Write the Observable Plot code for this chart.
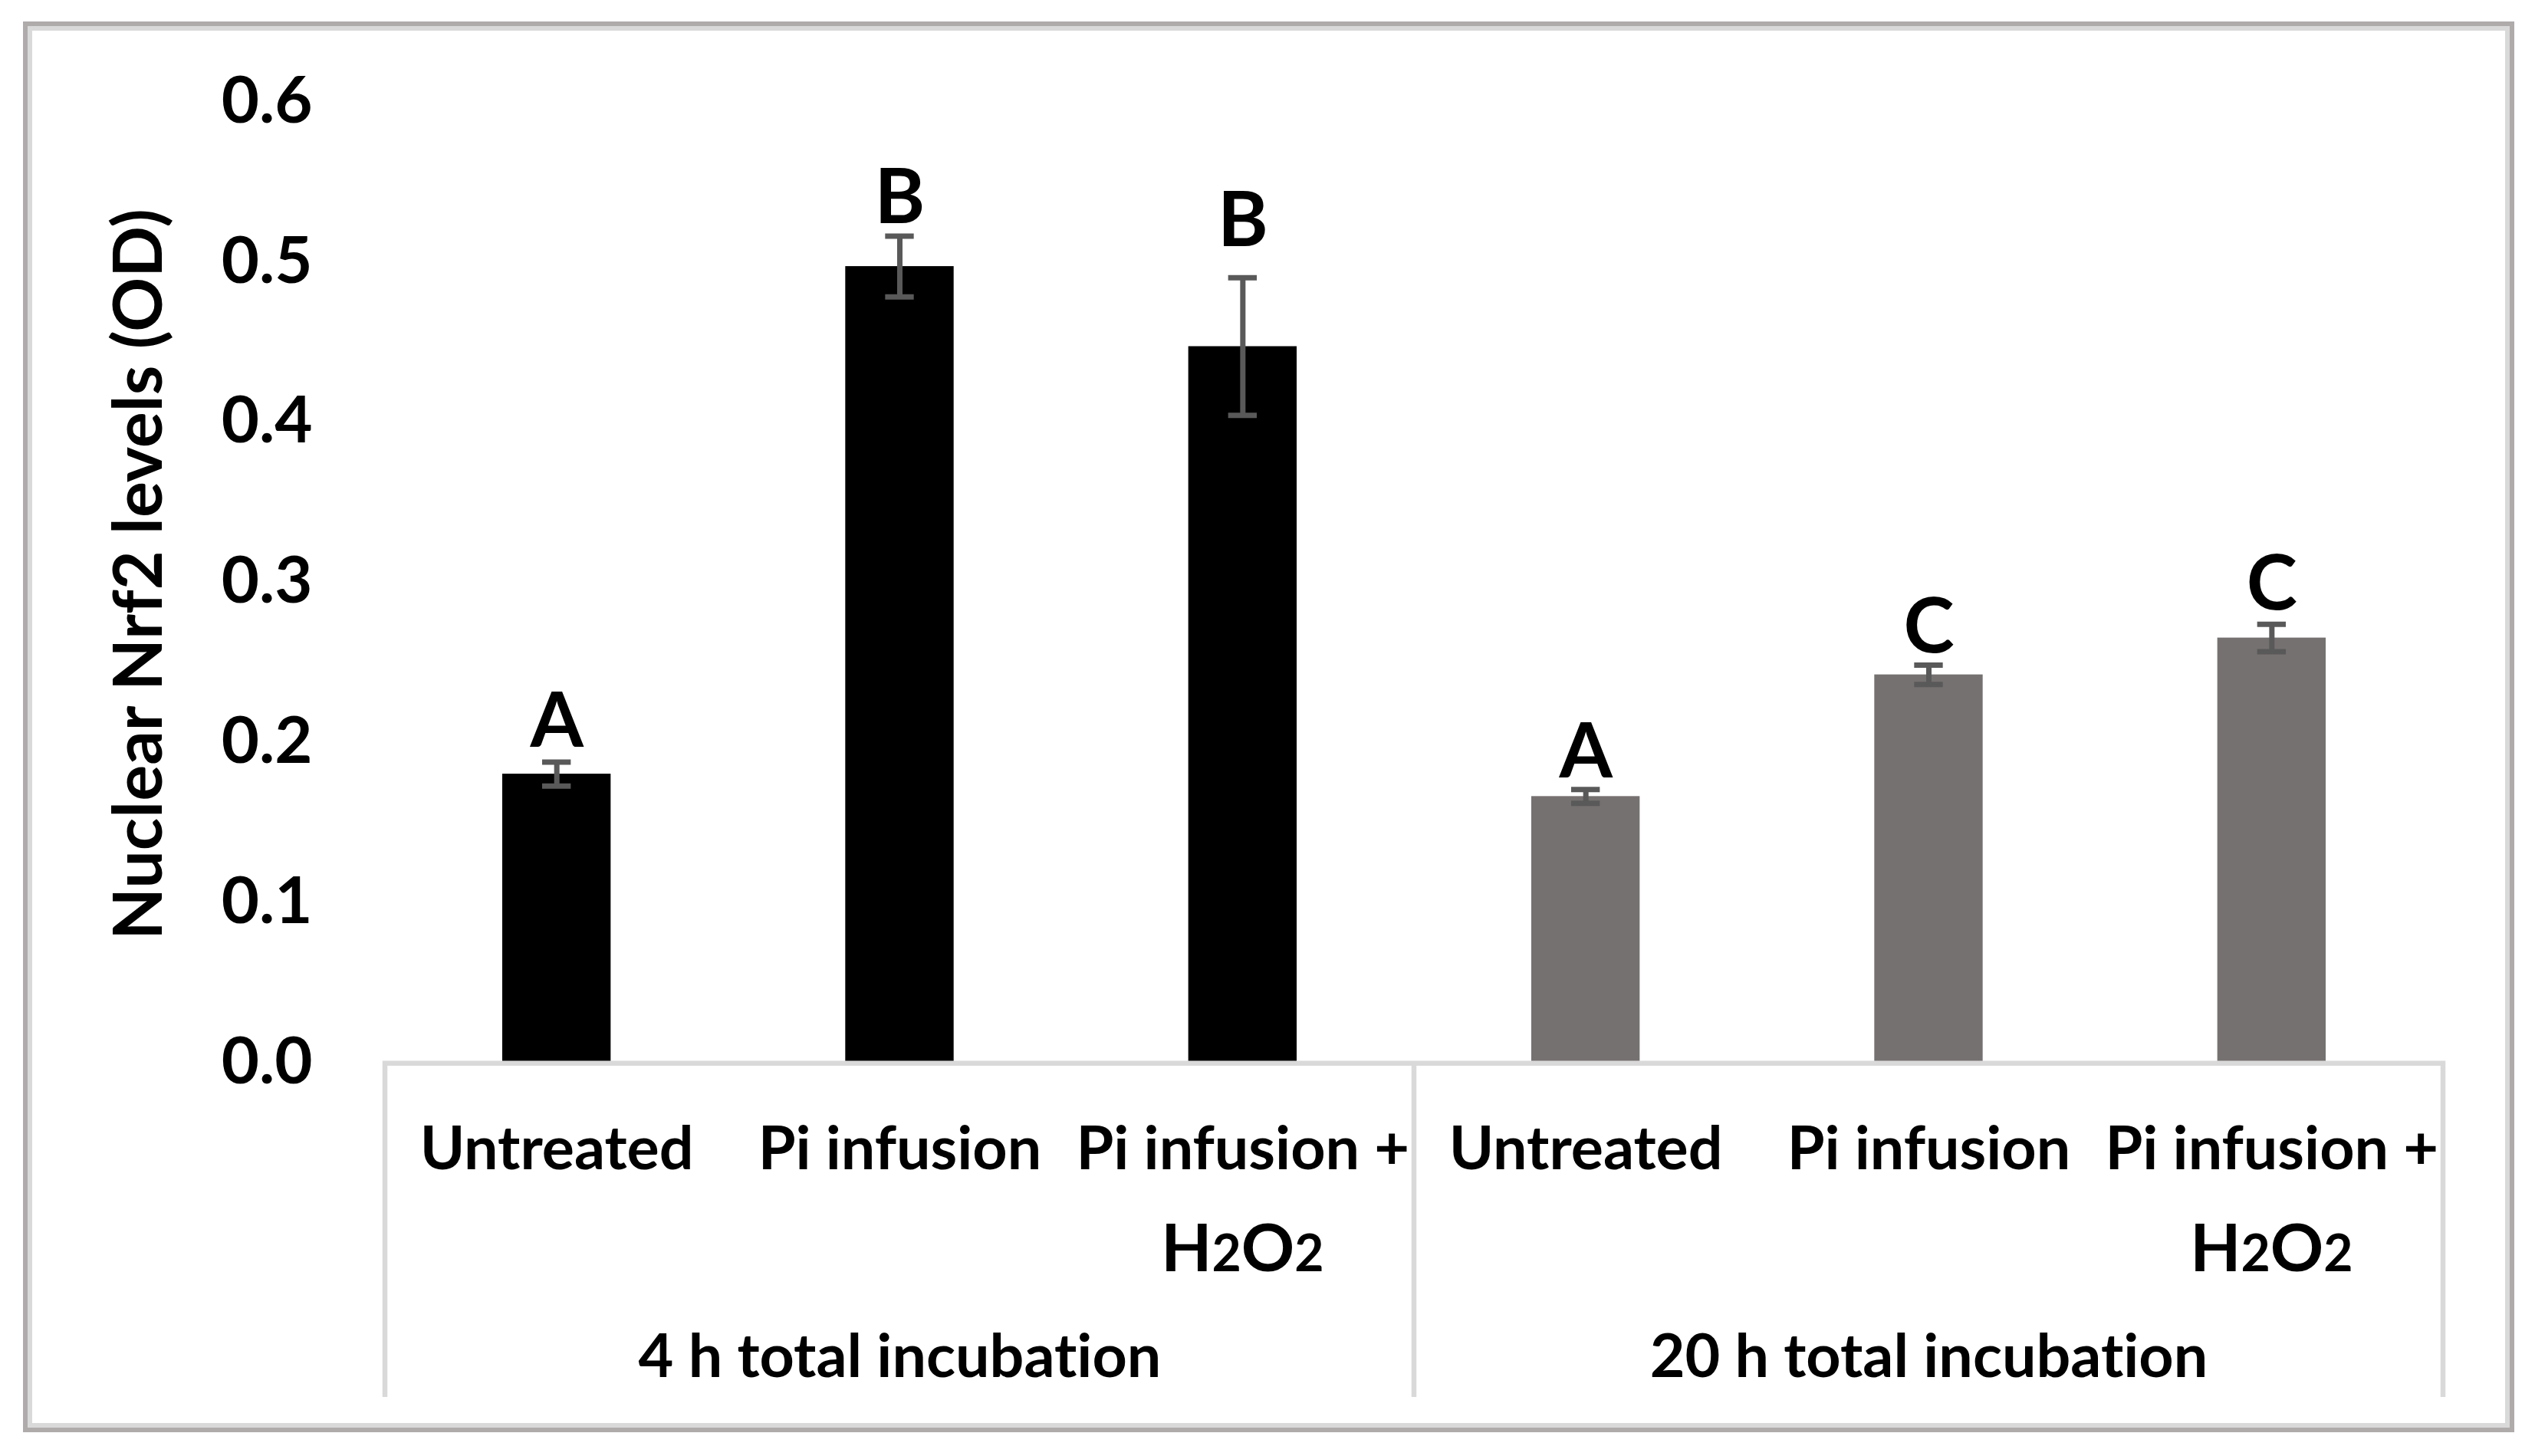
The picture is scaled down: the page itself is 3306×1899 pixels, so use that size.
<!DOCTYPE html>
<html>
<head>
<meta charset="utf-8">
<script src="https://cdn.jsdelivr.net/npm/d3@7"></script>
<script src="https://cdn.jsdelivr.net/npm/@observablehq/plot@0.6"></script>
<style>
  html, body { margin: 0; padding: 0; background: #ffffff; }
  #wrap { position: relative; width: 3306px; height: 1899px; }
  #frame {
    position: absolute; left: 30px; top: 28px; width: 3249px; height: 1840px;
    box-sizing: border-box; border: 6.5px solid #afabab;
    box-shadow: inset 0 0 0 6px #d9d9d9; pointer-events: none;
  }
  svg text, svg tspan { font-variant-ligatures: none; font-feature-settings: "liga" 0, "clig" 0, "dlig" 0; }
</style>
</head>
<body>
<div id="wrap"><div id="chart"></div><div id="frame"></div></div>
<script>
// ---- data ----
const groups = ["4 h total incubation", "20 h total incubation"];
const treatmentsLine1 = ["Untreated", "Pi infusion", "Pi infusion +"];
const treatmentsLine2 = ["", "", "H2O2"];
const means4h = [0.180, 0.497, 0.447];
const sem4h = [0.0075, 0.019, 0.043];
const means20h = [0.166, 0.242, 0.265];
const sem20h = [0.0043, 0.006, 0.0086];
const letters4h = ["A", "B", "B"];
const letters20h = ["A", "C", "C"];
const letterAt4h = [0.197, 0.524, 0.5095];
const letterAt20h = [0.178, 0.256, 0.283];
const yTicks = [0, 0.1, 0.2, 0.3, 0.4, 0.5, 0.6];
const yTitle = "Nuclear Nrf2 levels (OD)";

// ---- table built from the arrays ----
const rows = [];
groups.forEach((g, gi) => {
  const means = gi === 0 ? means4h : means20h;
  const sems = gi === 0 ? sem4h : sem20h;
  const letters = gi === 0 ? letters4h : letters20h;
  const letterAt = gi === 0 ? letterAt4h : letterAt20h;
  treatmentsLine1.forEach((t, ti) => {
    rows.push({
      key: g + "|" + t + "|" + treatmentsLine2[ti],
      group: g, line1: t, line2: treatmentsLine2[ti],
      mean: means[ti], lo: means[ti] - sems[ti], hi: means[ti] + sems[ti],
      letter: letters[ti], letterAt: letterAt[ti]
    });
  });
});
const line1ByKey = new Map(rows.map(r => [r.key, r.line1]));
const groupRows = groups.map(g => {
  const members = rows.filter(r => r.group === g);
  return {group: g, key: members[Math.floor(members.length / 2)].key};
});

const FONT = "Lato, 'Open Sans', sans-serif";

function bandInfo(sx, dims) {
  const bw = typeof sx.bandwidth === "function" ? sx.bandwidth() : (sx.bandwidth || 0);
  const step = typeof sx.step === "function" ? sx.step()
    : (dims.width - dims.marginLeft - dims.marginRight) / rows.length;
  return {bw, step};
}

// category box below the value axis (lines at the band boundaries)
function categoryBox(index, scales, values, dims) {
  const sx = scales.x;
  const {bw, step} = bandInfo(sx, dims);
  const y0 = dims.height - dims.marginBottom;
  const depth = 437;
  const left = dims.marginLeft, right = dims.width - dims.marginRight;
  const g = d3.create("svg:g").attr("fill", "none").attr("stroke", "#d9d9d9").attr("stroke-width", 6.5);
  g.append("path").attr("d", `M${left},${y0 + depth}V${y0 + 1.7}H${right}V${y0 + depth}`);
  groups.slice(1).forEach(gname => {
    const first = rows.find(r => r.group === gname);
    const xb = sx(first.key) + bw / 2 - step / 2;
    g.append("line").attr("x1", xb).attr("x2", xb).attr("y1", y0 + 1.7).attr("y2", y0 + depth);
  });
  return g.node();
}

// second line of the category labels, with smaller digits (H2O2)
function secondLine(index, scales, values, dims) {
  const sx = scales.x;
  const {bw} = bandInfo(sx, dims);
  const y0 = dims.height - dims.marginBottom;
  const g = d3.create("svg:g").attr("text-anchor", "middle")
    .attr("font-family", FONT).attr("font-weight", "bold").attr("fill", "#000");
  rows.filter(r => r.line2).forEach(r => {
    const t = g.append("text").attr("x", sx(r.key) + bw / 2).attr("y", y0 + 273);
    for (const part of r.line2.match(/\d+|\D+/g)) {
      t.append("tspan").attr("font-size", /\d/.test(part) ? 66 : 86).text(part);
    }
  });
  return g.node();
}

const chart = Plot.plot({
  width: 3306,
  height: 1899,
  marginLeft: 502,
  marginRight: 120,
  marginTop: 132,
  marginBottom: 514,
  style: {fontFamily: FONT, fontWeight: "bold", background: "transparent", maxWidth: "none", color: "#000", fontVariantLigatures: "none"},
  x: {type: "band", domain: rows.map(r => r.key), paddingInner: 0.684, paddingOuter: 0.342, round: false},
  y: {domain: [0, 0.6]},
  color: {domain: groups, range: ["#000000", "#767171"]},
  marks: [
    Plot.barY(rows, {x: "key", y: "mean", fill: "group"}),
    Plot.ruleX(rows, {x: "key", y1: "lo", y2: "hi", stroke: "#595959", strokeWidth: 7}),
    Plot.tickY(rows, {x: "key", y: "hi", stroke: "#595959", strokeWidth: 7, insetLeft: 52, insetRight: 52}),
    Plot.tickY(rows, {x: "key", y: "lo", stroke: "#595959", strokeWidth: 7, insetLeft: 52, insetRight: 52}),
    categoryBox,
    Plot.text(rows, {x: "key", y: "letterAt", text: "letter", lineAnchor: "bottom", textAnchor: "middle", fontSize: 100}),
    Plot.axisY({ticks: yTicks, tickFormat: d3.format(".1f"), tickSize: 0, tickPadding: 95, fontSize: 85, label: null}),
    Plot.axisX({tickFormat: k => line1ByKey.get(k), tickSize: 0, tickPadding: 83, fontSize: 79, label: null}),
    secondLine,
    Plot.text(groupRows, {x: "key", text: "group", frameAnchor: "bottom", dy: 410, lineAnchor: "bottom", textAnchor: "middle", fontSize: 79}),
    Plot.text([yTitle], {text: d => d, frameAnchor: "left", rotate: -90, dx: -292, dy: -10, lineAnchor: "bottom", textAnchor: "middle", fontSize: 88})
  ]
});
document.getElementById("chart").appendChild(chart);
</script>
</body>
</html>
